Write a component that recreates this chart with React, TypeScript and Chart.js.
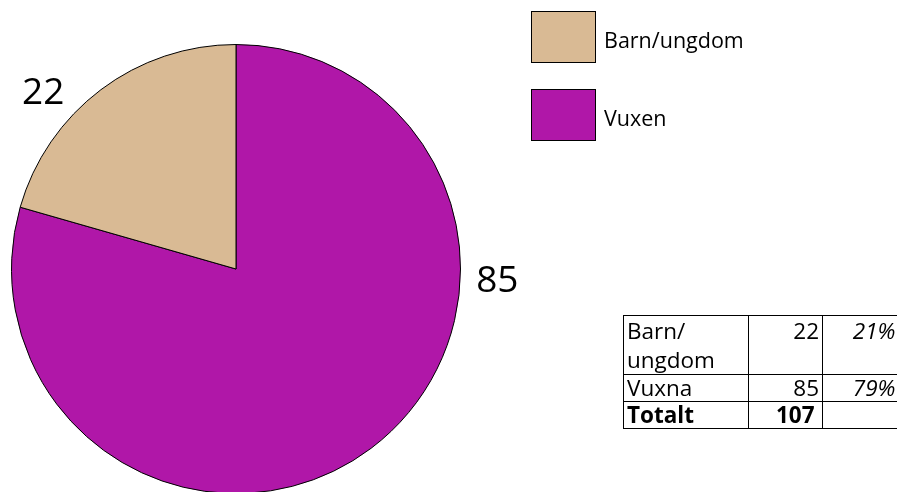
import React, { useEffect, useRef } from "react";
import { Chart, registerables } from "chart.js";

Chart.register(...registerables);

const categories = ["Vuxen", "Barn/ungdom"];
const values = [85, 22];
const colors = ["#B017A8", "#D9BA94"];
const legendLabels = ["Barn/ungdom", "Vuxen"];
const legendColors = ["#D9BA94", "#B017A8"];
const tableLabels = ["Barn/ ungdom", "Vuxna"];
const tableValues = [22, 85];
const tablePercents = ["21%", "79%"];
const totalLabel = "Totalt";
const totalValue = 107;

const FONT = "'Open Sans', 'Noto Sans', sans-serif";

// angular shift (degrees) of each value label relative to its slice's mid-angle, and radial factor
const labelShift = [-50.5, -10.5];
const labelRadial = 1.165;

const outsideLabels = {
  id: "outsideLabels",
  afterDatasetsDraw(chart: any) {
    const ctx = chart.ctx;
    const meta = chart.getDatasetMeta(0);
    ctx.save();
    ctx.font = `37px ${FONT}`;
    ctx.fillStyle = "#000";
    ctx.textAlign = "center";
    ctx.textBaseline = "middle";
    meta.data.forEach((arc: any, i: number) => {
      const p = arc.getProps(["x", "y", "startAngle", "endAngle", "outerRadius"], true);
      const mid = (p.startAngle + p.endAngle) / 2 + (labelShift[i] * Math.PI) / 180;
      const r = p.outerRadius * labelRadial;
      ctx.fillText(String(values[i]), p.x + Math.cos(mid) * r, p.y + Math.sin(mid) * r + 1);
    });
    ctx.restore();
  },
};

export default function App() {
  const ref = useRef<HTMLCanvasElement>(null);
  useEffect(() => {
    document.body.style.margin = "0";
    document.body.style.overflow = "hidden";
    const chart = new Chart(ref.current!, {
      type: "pie",
      data: {
        labels: categories,
        datasets: [
          {
            data: values,
            backgroundColor: colors,
            borderColor: "#000",
            borderWidth: 1,
            hoverOffset: 0,
          },
        ],
      },
      options: {
        animation: false,
        responsive: true,
        maintainAspectRatio: false,
        layout: { padding: { left: 11, top: 44, right: 436, bottom: 26 } },
        plugins: { legend: { display: false }, tooltip: { enabled: false } },
      },
      plugins: [outsideLabels],
    });
    return () => chart.destroy();
  }, []);

  const cell: React.CSSProperties = {
    border: "1px solid #000",
    padding: "0 3px",
    verticalAlign: "top",
    lineHeight: "26px",
    overflow: "hidden",
    whiteSpace: "nowrap",
  };
  const lastCell: React.CSSProperties = { ...cell, borderRight: "none" };

  return (
    <div style={{ position: "fixed", left: 0, top: 0, width: 897, height: 492, overflow: "hidden", background: "#fff", fontFamily: FONT }}>
      <div style={{ position: "absolute", left: 0, top: 0, width: 897, height: 520 }}>
        <canvas ref={ref} />
      </div>
      {legendLabels.map((l, i) => (
        <div key={l} style={{ position: "absolute", left: 531, top: 11 + i * 78, height: 52, display: "flex", alignItems: "center" }}>
          <div style={{ width: 65, height: 52, background: legendColors[i], border: "1px solid #000", boxSizing: "border-box" }} />
          <span style={{ marginLeft: 8, fontSize: 21.5, color: "#000", position: "relative", top: 2 }}>{l}</span>
        </div>
      ))}
      <div style={{ position: "absolute", left: 623, top: 315, width: 400 }}>
        <table style={{ borderCollapse: "collapse", tableLayout: "fixed", width: 290, fontSize: 22.5, color: "#000" }}>
          <colgroup>
            <col style={{ width: 125 }} />
            <col style={{ width: 74 }} />
            <col style={{ width: 91 }} />
          </colgroup>
          <tbody>
            {tableLabels.map((l, i) => (
              <tr key={l}>
                <td style={{ ...cell, lineHeight: i === 0 ? "29px" : "26px" }}>{i === 0 ? <>Barn/<br />ungdom</> : l}</td>
                <td style={{ ...cell, lineHeight: i === 0 ? "29px" : "26px", textAlign: "right" }}>{tableValues[i]}</td>
                <td style={{ ...lastCell, lineHeight: i === 0 ? "29px" : "26px", textAlign: "right", fontStyle: "italic", paddingRight: 18 }}>{tablePercents[i]}</td>
              </tr>
            ))}
            <tr>
              <td style={{ ...cell, fontWeight: "bold" }}>{totalLabel}</td>
              <td style={{ ...cell, fontWeight: "bold", textAlign: "left", paddingLeft: 27 }}>{totalValue}</td>
              <td style={lastCell}></td>
            </tr>
          </tbody>
        </table>
      </div>
    </div>
  );
}
